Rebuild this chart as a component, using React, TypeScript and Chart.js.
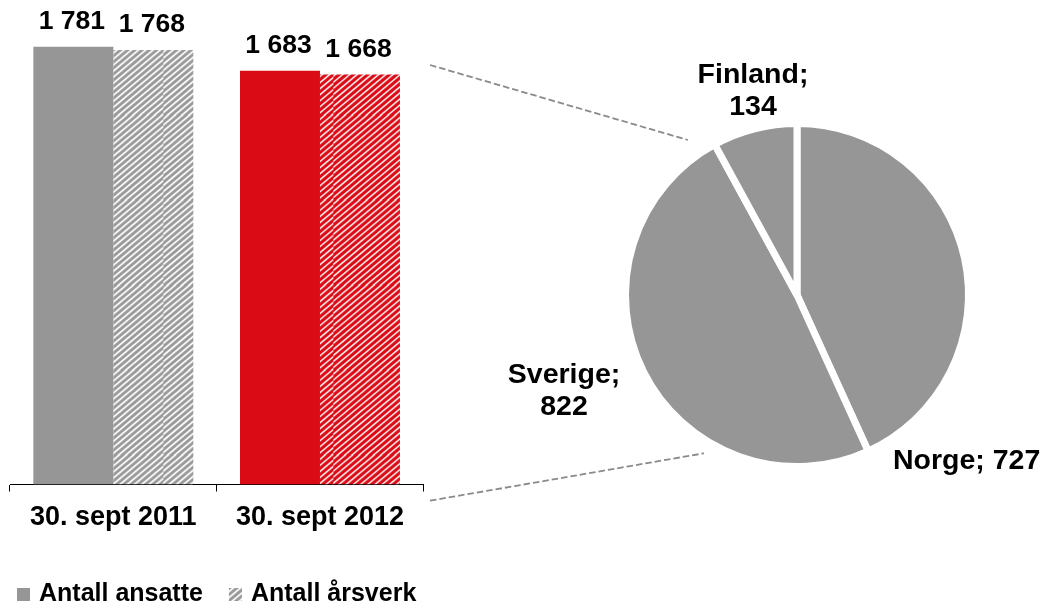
import React, { useEffect, useRef } from 'react';
import { Chart, registerables } from 'chart.js';
Chart.register(...registerables);

// ---- data ----
const categories = ['30. sept 2011', '30. sept 2012'];
const seriesNames = ['Antall ansatte', 'Antall årsverk'];
const ansatte = [1781, 1683];
const arsverk = [1768, 1668];
const countries = ['Norge', 'Sverige', 'Finland'];
const countryCounts = [727, 822, 134];
const yMin = 0;
const yMax = 1900;

// ---- styling ----
const FONT = '"Liberation Sans", Arial, Helvetica, sans-serif';
const GRAY = '#969696';
const RED = '#DB0B16';
const PIE_CANVAS_LEFT = 425;

const fmt = (v: number) => String(v).replace(/\B(?=(\d{3})+(?!\d))/g, ' ');

function makeHatch(color: string, width: number): CanvasPattern {
  const T = 85;
  const c = document.createElement('canvas');
  c.width = T;
  c.height = T;
  const g = c.getContext('2d')!;
  g.fillStyle = '#ffffff';
  g.fillRect(0, 0, T, T);
  g.strokeStyle = color;
  g.lineWidth = width;
  const ang = (40 * Math.PI) / 180;
  const t = Math.tan(ang);
  const period = 7.2;
  for (let x0 = -220; x0 < 320; x0 += period) {
    g.beginPath();
    g.moveTo(x0, T + 10);
    g.lineTo(x0 + (T + 20) / t, -10);
    g.stroke();
  }
  const pat = g.createPattern(c, 'repeat')!;
  try { pat.setTransform(new DOMMatrix().translate(78.3, 30)); } catch (e) {}
  return pat;
}

// label layout for pie (offsets from pie centre)
const pieLabelLayout: Record<string, { dx: number; dy: number; align: CanvasTextAlign; twoLines: boolean }> = {
  Norge: { dx: 96, dy: 174.3, align: 'left', twoLines: false },
  Sverige: { dx: -233, dy: 88.3, align: 'center', twoLines: true },
  Finland: { dx: -44, dy: -211.7, align: 'center', twoLines: true },
};

export default function App() {
  const barRef = useRef<HTMLCanvasElement>(null);
  const pieRef = useRef<HTMLCanvasElement>(null);

  useEffect(() => {
    const grayHatch = makeHatch('#999999', 2.9);
    const redHatch = makeHatch(RED, 3.2);

    const barLabels = {
      id: 'barLabels',
      afterDatasetsDraw(chart: any) {
        const ctx = chart.ctx;
        ctx.save();
        ctx.font = `bold 26.5px ${FONT}`;
        ctx.fillStyle = '#000';
        ctx.textAlign = 'center';
        ctx.textBaseline = 'alphabetic';
        chart.data.datasets.forEach((ds: any, i: number) => {
          chart.getDatasetMeta(i).data.forEach((el: any, j: number) => {
            ctx.fillText(fmt(ds.data[j]), el.x - 1.5, el.y - 18);
          });
        });
        ctx.restore();
      },
    };

    const customLegend = {
      id: 'customLegend',
      afterDraw(chart: any) {
        const ctx = chart.ctx;
        ctx.save();
        ctx.font = `bold 25px ${FONT}`;
        ctx.textBaseline = 'alphabetic';
        ctx.textAlign = 'left';
        let x = 17;
        chart.data.datasets.forEach((ds: any) => {
          const bg = Array.isArray(ds.backgroundColor) ? ds.backgroundColor[0] : ds.backgroundColor;
          ctx.fillStyle = bg;
          ctx.fillRect(x, 588, 13, 13);
          ctx.fillStyle = '#000';
          ctx.fillText(ds.label, x + 22, 600.5);
          x = x + 22 + ctx.measureText(ds.label).width + 26;
        });
        ctx.restore();
      },
    };

    const bar = new Chart(barRef.current!, {
      type: 'bar',
      data: {
        labels: categories,
        datasets: [
          {
            label: seriesNames[0],
            data: ansatte,
            backgroundColor: [GRAY, RED],
            borderWidth: 0,
            barPercentage: 1,
            categoryPercentage: 0.774,
          },
          {
            label: seriesNames[1],
            data: arsverk,
            backgroundColor: [grayHatch, redHatch] as any,
            borderWidth: 0,
            barPercentage: 1,
            categoryPercentage: 0.774,
          },
        ],
      },
      options: {
        animation: false,
        responsive: false,
        maintainAspectRatio: false,
        events: [],
        layout: { padding: { left: 10, right: 16.7, top: 17.5, bottom: 65.5 } },
        plugins: { legend: { display: false }, tooltip: { enabled: false } },
        scales: {
          x: {
            grid: { display: true, drawOnChartArea: false, drawTicks: true, tickLength: 7, color: '#000', lineWidth: 1, offset: true },
            border: { display: true, color: '#000', width: 1 },
            ticks: { color: '#000', font: { family: FONT, size: 27, weight: 'bold' }, padding: 10, maxRotation: 0 },
            afterFit: (s: any) => { s.height = 55; },
          },
          y: { display: false, min: yMin, max: yMax },
        },
      },
      plugins: [barLabels, customLegend],
    } as any);

    const pieLabels = {
      id: 'pieLabels',
      afterDatasetsDraw(chart: any) {
        const ctx = chart.ctx;
        const meta = chart.getDatasetMeta(0);
        const ds = chart.data.datasets[0];
        ctx.save();
        ctx.font = `bold 28.5px ${FONT}`;
        ctx.fillStyle = '#000';
        ctx.textBaseline = 'alphabetic';
        meta.data.forEach((el: any, i: number) => {
          const name = chart.data.labels[i];
          const lay = pieLabelLayout[name];
          ctx.textAlign = lay.align;
          const x = el.x + lay.dx;
          const y = el.y + lay.dy;
          if (lay.twoLines) {
            ctx.fillText(`${name};`, x, y);
            ctx.fillText(fmt(ds.data[i]), x, y + 32);
          } else {
            ctx.fillText(`${name}; ${fmt(ds.data[i])}`, x, y);
          }
        });
        ctx.restore();
      },
    };

    const connectors = {
      id: 'connectors',
      afterDraw(chart: any) {
        const ctx = chart.ctx;
        const el = chart.getDatasetMeta(0).data[0];
        const cx = el.x;
        const cy = el.y;
        const sx = 430 - PIE_CANVAS_LEFT;
        ctx.save();
        ctx.strokeStyle = '#8a8a8a';
        ctx.lineWidth = 1.8;
        ctx.setLineDash([6.5, 3]);
        ctx.beginPath();
        ctx.moveTo(sx, 65);
        ctx.lineTo(cx - 109, cy - 155);
        ctx.moveTo(sx, 500.7);
        ctx.lineTo(cx - 93, cy + 158.3);
        ctx.stroke();
        ctx.restore();
      },
    };

    const pie = new Chart(pieRef.current!, {
      type: 'pie',
      data: {
        labels: countries,
        datasets: [
          {
            data: countryCounts,
            backgroundColor: GRAY,
            borderColor: '#ffffff',
            borderWidth: 7,
            radius: 171.5,
          },
        ],
      },
      options: {
        animation: false,
        responsive: false,
        maintainAspectRatio: false,
        events: [],
        layout: { padding: { left: 123, right: 0, top: 0, bottom: 15 } },
        plugins: { legend: { display: false }, tooltip: { enabled: false } },
      },
      plugins: [pieLabels, connectors],
    } as any);

    return () => {
      bar.destroy();
      pie.destroy();
    };
  }, []);

  return (
    <div style={{ position: 'absolute', left: 0, top: 0, width: 1046, height: 605, overflow: 'hidden', background: '#fff' }}>
      <canvas ref={barRef} width={440} height={605} style={{ position: 'absolute', left: 0, top: 0 }} />
      <canvas ref={pieRef} width={621} height={605} style={{ position: 'absolute', left: PIE_CANVAS_LEFT, top: 0 }} />
    </div>
  );
}
